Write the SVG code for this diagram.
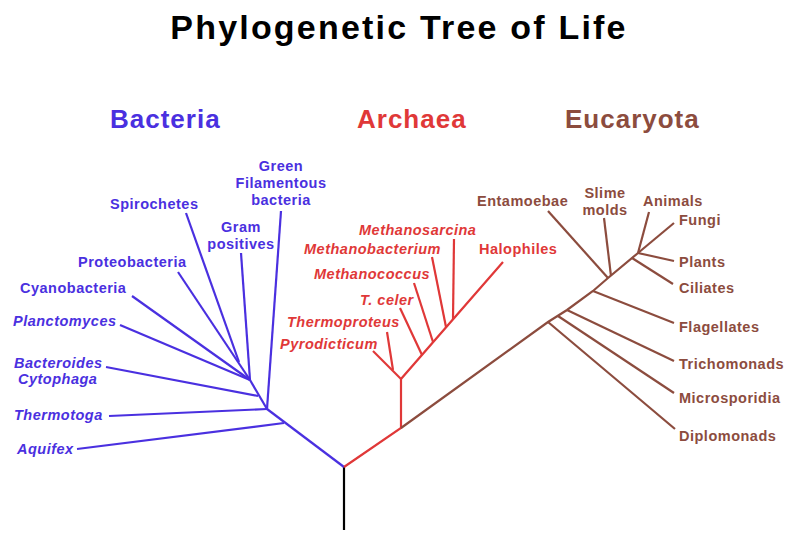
<svg xmlns="http://www.w3.org/2000/svg" width="800" height="541" viewBox="0 0 800 541">
<style>
text{font-family:"Liberation Sans",Arial,Helvetica,sans-serif;font-weight:bold}
.title{font-size:34px;letter-spacing:2.2px;fill:#000}
.head{font-size:26px;letter-spacing:1px}
.lbl{font-size:14.5px;letter-spacing:0.5px}
.it{font-style:italic}
.mid{text-anchor:middle}
.b{fill:#4a30e0}
.a{fill:#e03838}
.e{fill:#8c4c3e}
.lb{stroke:#4a30e0;stroke-width:2.2;fill:none}
.la{stroke:#e03838;stroke-width:2.2;fill:none}
.le{stroke:#8c4c3e;stroke-width:2.2;fill:none}
.lk{stroke:#000;stroke-width:2.2;fill:none}
</style>
<rect width="800" height="541" fill="#fff"/>
<text class="title" x="399" y="39" text-anchor="middle">Phylogenetic Tree of Life</text>
<g id="heading-bacteria"><text class="head b" x="110" y="128">Bacteria</text></g>
<g id="heading-archaea"><text class="head a" x="357" y="128">Archaea</text></g>
<g id="heading-eucaryota"><text class="head e" x="565" y="128">Eucaryota</text></g>

<g id="connectors">
  <path class="lk" d="M344,467 L344,530"/>
  <!-- bacteria -->
  <path class="lb" d="M344,467 L267,409"/>
  <path class="lb" d="M284,423 L77,449"/>
  <path class="lb" d="M267,409 L109,416"/>
  <path class="lb" d="M267,409 L281,211"/>
  <path class="lb" d="M267,409 L250,380"/>
  <path class="lb" d="M258,396 L106,367"/>
  <path class="lb" d="M250,380 L241,253"/>
  <path class="lb" d="M250,380 L178,272"/>
  <path class="lb" d="M239,362 L186,213"/>
  <path class="lb" d="M250,380 L132,296"/>
  <path class="lb" d="M250,380 L120,325"/>
  <!-- archaea -->
  <path class="la" d="M344,467 L401,428 L401,379 L503,262"/>
  <path class="la" d="M401,379 L373,351"/>
  <path class="la" d="M393,370 L387,332"/>
  <path class="la" d="M422,355 L400,308"/>
  <path class="la" d="M433,342 L414,283"/>
  <path class="la" d="M446,327 L432,257"/>
  <path class="la" d="M453,319 L454,239"/>
  <!-- eucaryota -->
  <path class="le" d="M401,428 L548,322 L567,310 L593,291 L608,278 L638,253"/>
  <path class="le" d="M548,322 L675,429"/>
  <path class="le" d="M558,316 L674,393"/>
  <path class="le" d="M567,310 L674,361"/>
  <path class="le" d="M593,291 L674,323"/>
  <path class="le" d="M608,278 L548,211"/>
  <path class="le" d="M611,276 L604,218"/>
  <path class="le" d="M632,258 L673,284"/>
  <path class="le" d="M638,253 L674,261"/>
  <path class="le" d="M638,253 L649,212"/>
  <path class="le" d="M638,253 L674,223"/>
</g>

<!-- Bacteria nodes -->
<g id="green-filamentous"><text class="lbl b mid" x="281" y="171">Green</text><text class="lbl b mid" x="281" y="188">Filamentous</text><text class="lbl b mid" x="281" y="205">bacteria</text></g>
<g id="spirochetes"><text class="lbl b" x="110" y="209">Spirochetes</text></g>
<g id="gram-positives"><text class="lbl b mid" x="241" y="232">Gram</text><text class="lbl b mid" x="241" y="249">positives</text></g>
<g id="proteobacteria"><text class="lbl b" x="78" y="267">Proteobacteria</text></g>
<g id="cyanobacteria"><text class="lbl b" x="20" y="293">Cyanobacteria</text></g>
<g id="planctomyces"><text class="lbl b it" x="13" y="326">Planctomyces</text></g>
<g id="bacteroides"><text class="lbl b it" x="14" y="368">Bacteroides</text><text class="lbl b it" x="18" y="384">Cytophaga</text></g>
<g id="thermotoga"><text class="lbl b it" x="14" y="420">Thermotoga</text></g>
<g id="aquifex"><text class="lbl b it" x="17" y="454">Aquifex</text></g>

<!-- Archaea nodes -->
<g id="methanosarcina"><text class="lbl a it" x="359" y="235">Methanosarcina</text></g>
<g id="methanobacterium"><text class="lbl a it" x="304" y="254">Methanobacterium</text></g>
<g id="methanococcus"><text class="lbl a it" x="314" y="279">Methanococcus</text></g>
<g id="t-celer"><text class="lbl a it" x="360" y="305">T. celer</text></g>
<g id="thermoproteus"><text class="lbl a it" x="287" y="327">Thermoproteus</text></g>
<g id="pyrodicticum"><text class="lbl a it" x="280" y="349">Pyrodicticum</text></g>
<g id="halophiles"><text class="lbl a" x="479" y="254">Halophiles</text></g>

<!-- Eucaryota nodes -->
<g id="entamoebae"><text class="lbl e" x="477" y="206">Entamoebae</text></g>
<g id="slime-molds"><text class="lbl e mid" x="605" y="198">Slime</text><text class="lbl e mid" x="605" y="215">molds</text></g>
<g id="animals"><text class="lbl e" x="643" y="206">Animals</text></g>
<g id="fungi"><text class="lbl e" x="679" y="225">Fungi</text></g>
<g id="plants"><text class="lbl e" x="679" y="267">Plants</text></g>
<g id="ciliates"><text class="lbl e" x="679" y="293">Ciliates</text></g>
<g id="flagellates"><text class="lbl e" x="679" y="332">Flagellates</text></g>
<g id="trichomonads"><text class="lbl e" x="679" y="369">Trichomonads</text></g>
<g id="microsporidia"><text class="lbl e" x="679" y="403">Microsporidia</text></g>
<g id="diplomonads"><text class="lbl e" x="679" y="441">Diplomonads</text></g>
</svg>
